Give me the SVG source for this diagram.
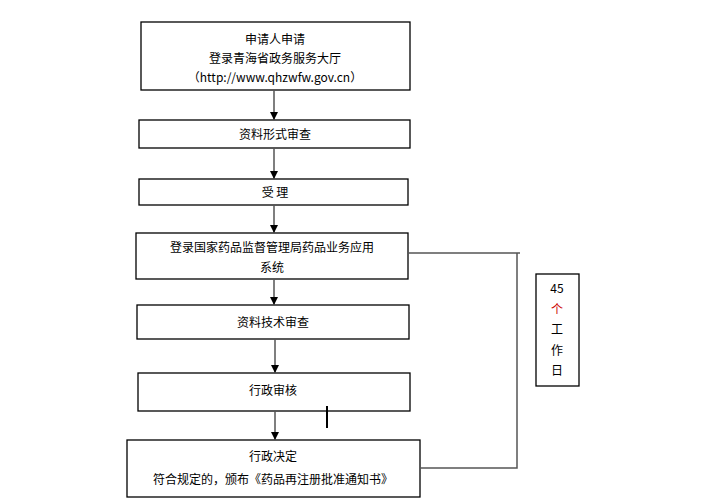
<svg xmlns="http://www.w3.org/2000/svg" width="713" height="504" viewBox="0 0 713 504">
<style>
.b{fill:#fff;stroke:#000;stroke-width:1.3}
.t{font-family:"Noto Sans CJK SC","Liberation Sans",sans-serif;font-size:12px;text-anchor:middle;fill:#000}
.c{stroke:#555;stroke-width:1.5;fill:none}
</style>
<defs><marker id="a" markerWidth="8" markerHeight="8" refX="7" refY="4" orient="auto" markerUnits="userSpaceOnUse"><path d="M0,0L8,4L0,8z" fill="#000"/></marker></defs>
<rect width="713" height="504" fill="#fff"/>
<g id="n1"><rect class="b" x="141" y="22" width="269" height="68"/><text class="t" x="275" y="44">申请人申请</text><text class="t" x="275" y="63">登录青海省政务服务大厅</text><text class="t" x="275" y="82">（http://www.qhzwfw.gov.cn）</text></g>
<g id="n2"><rect class="b" x="139" y="120" width="271" height="28"/><text class="t" x="275" y="139">资料形式审查</text></g>
<g id="n3"><rect class="b" x="139" y="179" width="269" height="26"/><text class="t" x="275" y="197">受  理</text></g>
<g id="n4"><rect class="b" x="136" y="233" width="272" height="46"/><text class="t" x="272" y="252">登录国家药品监督管理局药品业务应用</text><text class="t" x="272" y="272">系统</text></g>
<g id="n5"><rect class="b" x="137" y="305" width="272" height="34"/><text class="t" x="273" y="327">资料技术审查</text></g>
<g id="n6"><rect class="b" x="138" y="373" width="272" height="38"/><text class="t" x="273" y="395">行政审核</text></g>
<g id="n7"><rect class="b" x="127" y="440" width="293" height="57"/><text class="t" x="273" y="461">行政决定</text><text class="t" x="273" y="484">符合规定的，颁布《药品再注册批准通知书》</text></g>
<g id="n8"><rect class="b" x="536" y="274" width="43" height="112"/><text class="t" x="557" y="293">45</text><text class="t" x="557" y="314" fill="#c00" style="fill:#c00">个</text><text class="t" x="557" y="334">工</text><text class="t" x="557" y="355">作</text><text class="t" x="557" y="375">日</text></g>
<g id="connectors">
<line class="c" x1="274" y1="90" x2="274" y2="119" marker-end="url(#a)"/>
<line class="c" x1="274" y1="148" x2="274" y2="178" marker-end="url(#a)"/>
<line class="c" x1="274" y1="205" x2="274" y2="232" marker-end="url(#a)"/>
<line class="c" x1="274" y1="279" x2="274" y2="304" marker-end="url(#a)"/>
<line class="c" x1="275" y1="339" x2="275" y2="372" marker-end="url(#a)"/>
<line class="c" x1="275" y1="411" x2="275" y2="439" marker-end="url(#a)"/>
<polyline class="c" points="408,253 520,253 517,253 517,468 420,468"/>
<line x1="327" y1="406" x2="327" y2="428" stroke="#000" stroke-width="2"/>
</g>
</svg>
